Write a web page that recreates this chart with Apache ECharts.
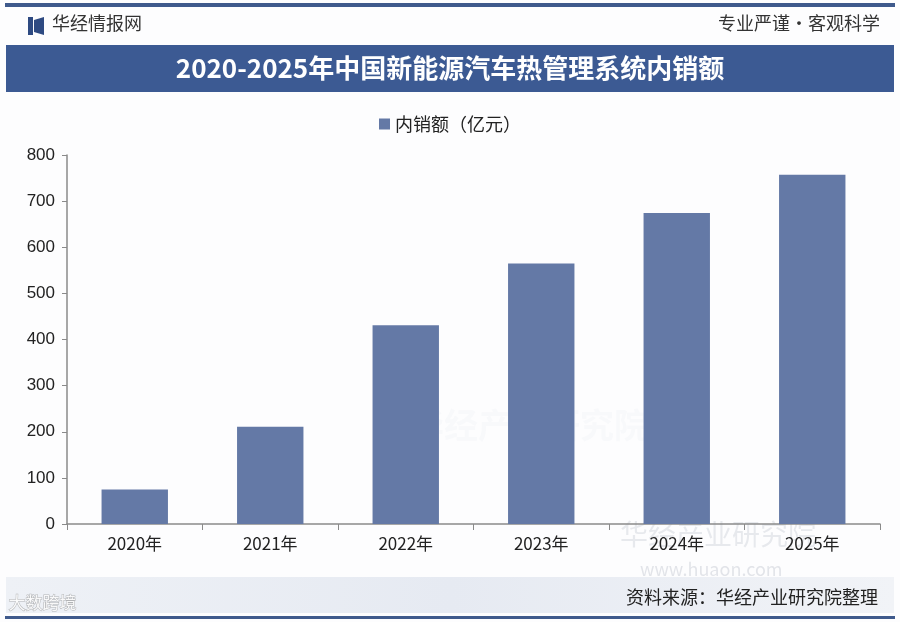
<!DOCTYPE html>
<html><head><meta charset="utf-8">
<script src="https://cdn.jsdelivr.net/npm/echarts@6/dist/echarts.min.js"></script>
<style>html,body{margin:0;padding:0;background:#fff}#c{width:900px;height:622px}</style>
</head><body><div id="c"></div>
<script>
var categories = ['2020年','2021年','2022年','2023年','2024年','2025年'];
var salesValues = [75, 211, 431, 565, 674, 757];
var seriesName = '内销额（亿元）';
var yTicks = [0,100,200,300,400,500,600,700,800];

var chart = echarts.init(document.getElementById('c'), null, {renderer:'canvas'});
var cjk = '"Noto Sans CJK SC", "Noto Sans", sans-serif';
chart.setOption({
  backgroundColor: '#fdfdfe',
  animation: false,
  textStyle: {fontFamily: cjk},
  graphic: [
    {type:'rect', shape:{x:5,y:3,width:890,height:4}, style:{fill:'#3f5a8c'}},
    {type:'rect', shape:{x:28,y:17,width:5,height:18}, style:{fill:'#2e4a82'}},
    {type:'polygon', shape:{points:[[34,20],[44,17],[44,35],[34,32]]}, style:{fill:'#2e4a82'}},
    {type:'text', left:52, top:14, style:{text:'华经情报网', fill:'#333', font:'18px '+cjk}},
    {type:'text', right:20, top:14, style:{text:'专业严谨•客观科学', fill:'#333', font:'18px '+cjk}},
    {type:'rect', shape:{x:6,y:45,width:888,height:47}, style:{fill:'#3c5a93'}},
    {type:'text', left:'center', top:55, style:{text:'2020-2025年中国新能源汽车热管理系统内销额', fill:'#fff', font:'bold 26px '+cjk}},
    {type:'text', left:410, top:408, style:{text:'华经产业研究院', fill:'rgba(150,170,200,0.05)', font:'bold 34px '+cjk}},
    {type:'text', left:620, top:520, style:{text:'华经产业研究院', fill:'rgba(120,130,150,0.16)', font:'28px '+cjk}},
    {type:'text', left:640, top:560, style:{text:'www.huaon.com', fill:'rgba(120,130,150,0.20)', font:'18px '+cjk}},
    {type:'rect', shape:{x:6,y:577,width:888,height:36}, style:{fill:new echarts.graphic.LinearGradient(0,0,1,0,[{offset:0,color:'#eef1f6'},{offset:0.5,color:'#e6eaf2'},{offset:1,color:'#f1f3f7'}])}},
    {type:'text', right:22, top:588, style:{text:'资料来源：华经产业研究院整理', fill:'#222', font:'18px '+cjk}},
    {type:'text', left:8, top:594, style:{text:'大数跨境', fill:'rgba(255,255,255,0.9)', stroke:'rgba(120,120,120,0.5)', lineWidth:1, font:'17px '+cjk}},
    {type:'rect', shape:{x:5,y:616,width:890,height:3}, style:{fill:'#3f5a8c'}}
  ],
  legend: {
    top: 110, left: 'center',
    itemWidth: 11, itemHeight: 11, itemGap: 6,
    icon: 'rect',
    textStyle: {fontSize: 18, color: '#222', fontFamily: cjk},
    data: [seriesName]
  },
  grid: {left: 67, right: 20, top: 155, bottom: 98, containLabel: false},
  xAxis: {
    type: 'category', data: categories,
    axisLine: {lineStyle: {color: '#8a8a8a', width: 1.5}},
    axisTick: {show: true, alignWithLabel: false, length: 6, lineStyle:{color:'#8a8a8a'}},
    axisLabel: {fontSize: 17, color: '#222', margin: 11, fontFamily: cjk}
  },
  yAxis: {
    type: 'value', min: 0, max: 800, interval: 100,
    axisLine: {show: true, lineStyle: {color: '#8a8a8a', width: 1.5}},
    axisTick: {show: true, length: 5, lineStyle:{color:'#8a8a8a'}},
    splitLine: {show: false},
    axisLabel: {fontSize: 17, color: '#222', margin: 12, fontFamily: '"Liberation Sans", Arial, sans-serif'}
  },
  series: [{
    name: seriesName, type: 'bar', data: salesValues,
    barWidth: '49%',
    itemStyle: {color: '#6479a6'}
  }]
});
</script></body></html>
